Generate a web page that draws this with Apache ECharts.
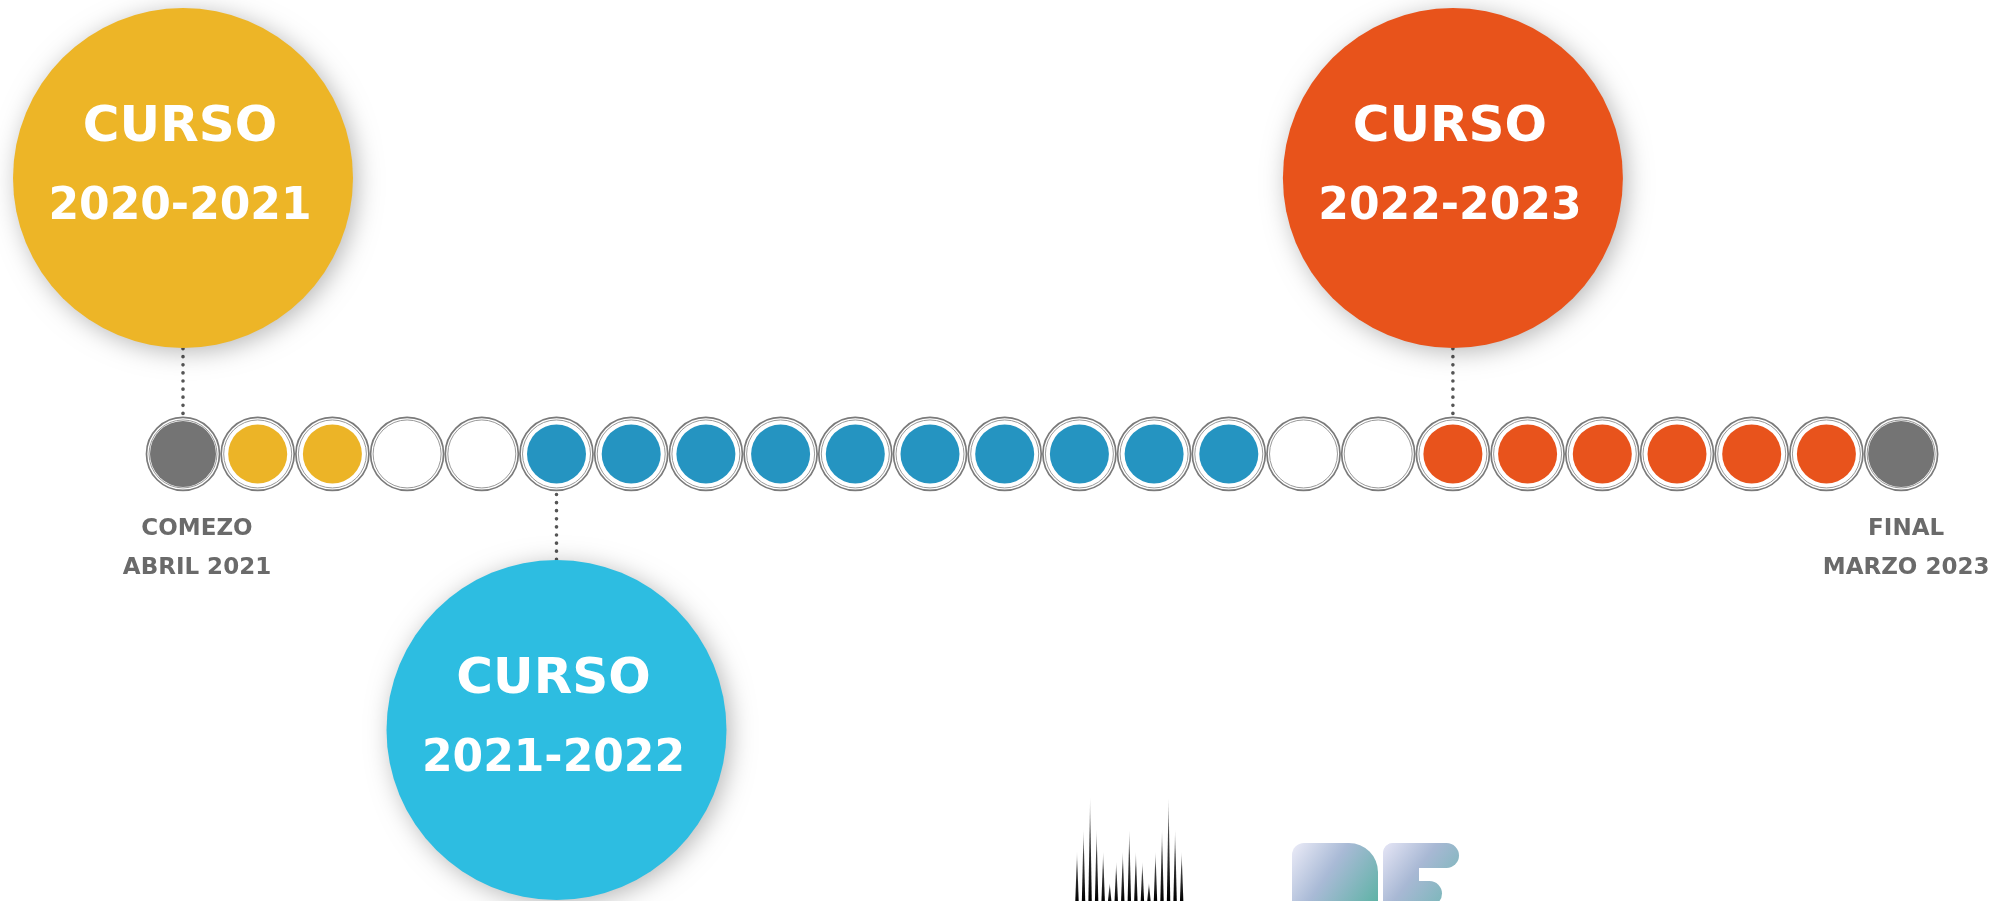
<!DOCTYPE html>
<html><head><meta charset="utf-8">
<script src="https://cdn.jsdelivr.net/npm/echarts@6/dist/echarts.min.js"></script>
<style>html,body{margin:0;padding:0;background:#fff}#c{width:1995px;height:901px}</style>
</head><body><div id="c"></div>
<script>
// ---- data ----
const months = ['Abr 2021','Mai 2021','Xuñ 2021','Xul 2021','Ago 2021','Set 2021','Out 2021','Nov 2021','Dec 2021','Xan 2022','Feb 2022','Mar 2022','Abr 2022','Mai 2022','Xuñ 2022','Xul 2022','Ago 2022','Set 2022','Out 2022','Nov 2022','Dec 2022','Xan 2023','Feb 2023','Mar 2023'];
const monthPhase = ['limite','c1','c1','baleiro','baleiro','c2','c2','c2','c2','c2','c2','c2','c2','c2','c2','baleiro','baleiro','c3','c3','c3','c3','c3','c3','limite'];
const courseNames = ['2020-2021','2021-2022','2022-2023'];
const courseMonth = [0, 5, 17];     // month each course bubble is linked to
const courseSide = [1, -1, 1];      // 1 = above the timeline, -1 = below
const endLabels = ['COMEZO\nABRIL 2021', 'FINAL\nMARZO 2023'];
const endMonths = [0, 23];
// logo decoration (heights of the spikes)
const logoSpikes = [49,71,103,71,49,18,39,49,71,49,39,18,49,71,103,71,49];

// ---- styles ----
const FONT = 'DejaVu Sans';
const phaseColor = {limite:'#747474', c1:'#ECB427', c2:'#2594C1', c3:'#E8531C'};
const bubbleColor = ['#EDB527', '#2DBDE1', '#E8531B'];
const endOffsetX = [14, 5];

const chart = echarts.init(document.getElementById('c'), null, {renderer:'canvas'});

const connectorSeries = courseNames.map((n, i) => ({
  type:'line', z:1, silent:true, symbol:'none', showSymbol:false, animation:false,
  data:[[courseMonth[i], 0], [courseMonth[i], courseSide[i]]],
  lineStyle:{color:'#555', width:3.6, type:[0.1, 8], cap:'round', opacity:1}
}));

const ringData = months.map((m, i) => [i, 0]);

const fillData = [];
months.forEach((m, i) => {
  const ph = monthPhase[i];
  if (ph === 'baleiro') return;
  const item = {
    value:[i, 0],
    symbolSize: ph === 'limite' ? 66 : 59,
    itemStyle:{color: phaseColor[ph], opacity:1}
  };
  const k = endMonths.indexOf(i);
  if (k >= 0) {
    item.label = {
      show:true, formatter:endLabels[k], position:'inside',
      offset:[endOffsetX[k], 95], color:'#6a6a6a', fontSize:23,
      fontWeight:'bold', fontFamily:FONT, lineHeight:39, align:'center', opacity:1
    };
  }
  fillData.push(item);
});

const bubbleData = courseNames.map((n, i) => ({
  value:[courseMonth[i], courseSide[i]],
  name:n,
  itemStyle:{color:bubbleColor[i]}
}));

function lin(x, y, x2, y2, stops) {
  return {type:'linear', x:x, y:y, x2:x2, y2:y2, global:true,
    colorStops:stops.map(s => ({offset:s[0], color:s[1]}))};
}

const graphics = [];
logoSpikes.forEach((h, i) => {
  const x = 1077 + i * 6.54;
  graphics.push({
    type:'polygon', silent:true,
    shape:{points:[[x - 1.7, 901], [x, 901 - h], [x + 1.7, 901]]},
    style:{fill:lin(0, 901 - h, 0, 901, [[0,'#d0d0d0'],[0.35,'#444'],[1,'#000']])}
  });
});
const gradR = lin(1292, 843, 1378, 901, [[0,'#ececf8'],[0.45,'#a9bad6'],[1,'#5fb3a6']]);
const gradE = lin(1383, 843, 1460, 901, [[0,'#e6e6f6'],[0.45,'#a8b8d4'],[1,'#6fb7b3']]);
graphics.push({type:'rect', silent:true, shape:{x:1292, y:843, width:86, height:58, r:[12,29,0,0]}, style:{fill:gradR}});
graphics.push({type:'rect', silent:true, shape:{x:1383, y:843, width:36, height:58, r:[10,0,0,0]}, style:{fill:gradE}});
graphics.push({type:'rect', silent:true, shape:{x:1383, y:843, width:76, height:25, r:[10,12.5,12.5,0]}, style:{fill:gradE}});
graphics.push({type:'rect', silent:true, shape:{x:1383, y:881, width:59, height:25, r:[0,12.5,12.5,0]}, style:{fill:gradE}});

const option = {
  animation:false,
  backgroundColor:'#ffffff',
  grid:{left:145.65, right:56.55, top:0, bottom:0},
  xAxis:{type:'category', data:months, show:false, boundaryGap:true},
  yAxis:{type:'value', min:-1.62, max:1.645, show:false},
  graphic:graphics,
  series:[
    ...connectorSeries,
    {type:'scatter', z:3, silent:true, symbolSize:73, data:ringData,
     itemStyle:{color:'#ffffff', borderColor:'#7a7a7a', borderWidth:1.7, opacity:1}},
    {type:'scatter', z:4, silent:true, symbolSize:68, data:ringData,
     itemStyle:{color:'rgba(255,255,255,0)', borderColor:'#9a9a9a', borderWidth:1, opacity:1}},
    {type:'scatter', z:5, silent:true, data:fillData, itemStyle:{opacity:1}},
    {type:'scatter', z:6, silent:true, symbolSize:340, data:bubbleData, clip:false,
     itemStyle:{opacity:1, shadowBlur:24, shadowColor:'rgba(0,0,0,0.28)', shadowOffsetX:4, shadowOffsetY:4},
     label:{show:true, position:'inside', offset:[-3, -10],
       formatter:p => '{a|CURSO}\n{b|' + p.name + '}',
       rich:{
         a:{fontSize:50, fontWeight:'bold', fontFamily:FONT, color:'#fff', lineHeight:80, align:'center'},
         b:{fontSize:44, fontWeight:'bold', fontFamily:FONT, color:'#fff', lineHeight:80, align:'center'}
       }}}
  ]
};
chart.setOption(option);
</script>
</body></html>
